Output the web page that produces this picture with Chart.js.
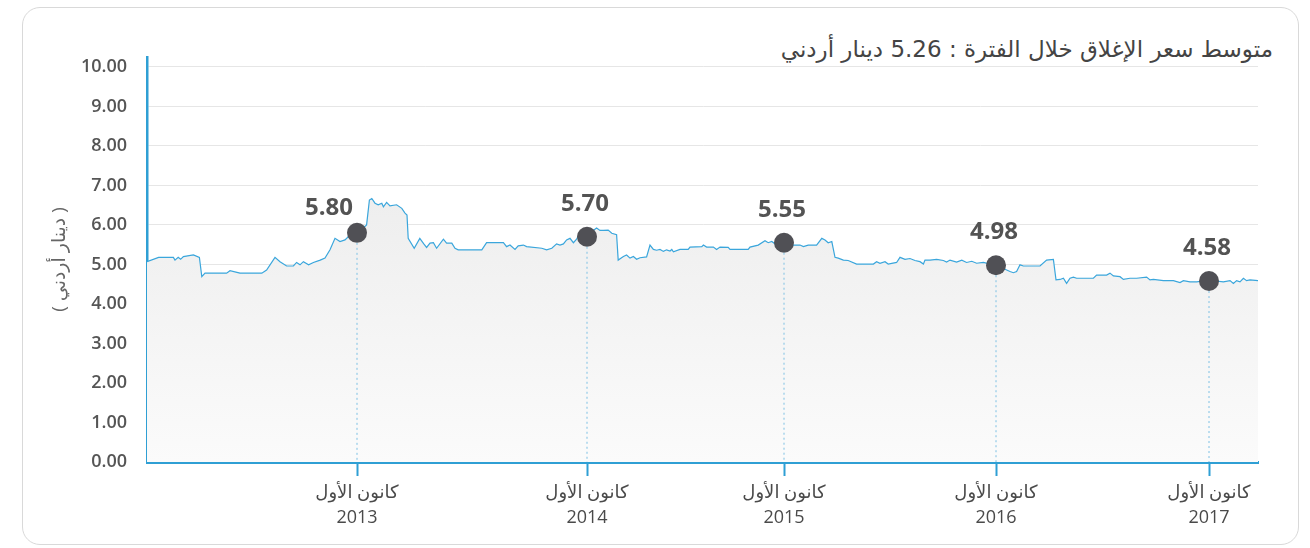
<!DOCTYPE html>
<html lang="ar">
<head>
<meta charset="utf-8">
<script src="https://cdn.jsdelivr.net/npm/chart.js@4.4.1/dist/chart.umd.min.js"></script>
<style>
  html, body { margin: 0; padding: 0; background: #fff; }
  #wrap { position: relative; width: 1310px; height: 548px; overflow: hidden; }
  #card {
    position: absolute; left: 22px; top: 7px; width: 1277px; height: 538px;
    border: 1px solid #d9d9d9; border-radius: 18px; box-sizing: border-box;
  }
  #title {
    position: absolute; right: 37px; top: 35px; direction: rtl;
    font-family: 'DejaVu Sans', sans-serif;
    font-size: 23px; color: #444; white-space: nowrap; line-height: 28px;
  }
  #main-chart { position: absolute; left: 0; top: 0; }
</style>
</head>
<body>
<div id="wrap">
  <div id="card"></div>
  <div id="title">متوسط سعر الإغلاق خلال الفترة : 5.26 دينار أردني</div>
  <canvas id="main-chart" width="1310" height="548"></canvas>
</div>
<script>
// data: week index since start of period, closing price (JOD)
const weekIdx = [
  0, 2.9, 6.6, 7, 7.8, 8.4, 9.1, 11.6, 13.1, 13.7, 14.5, 19.9, 20.75, 23.25, 28.7, 29.9,
  32, 33.25, 34.9, 36.6, 37.4, 38.25, 39.1, 40.4, 41.6, 43.3, 44.5, 45.75, 47, 48.25, 49.5, 50.3,
  52.5, 54.9, 55.6, 56.2, 57, 57.8, 58.7, 59.1, 59.9, 60.75, 62.4, 63.7, 64.5, 65, 65.3, 66.8,
  68.2, 69.2, 69.9, 70.75, 71.6, 72.4, 74.1, 74.9, 76.2, 77, 77.8, 83.7, 84.9, 89.1, 89.9, 90.75,
  92, 92.8, 94.1, 94.9, 98.7, 99.9, 101.2, 102.4, 103.25, 104.1, 104.9, 105.75, 106.6, 107.4, 108.25, 110,
  112.4, 113.25, 114.1, 115.3, 116.2, 117.4, 117.8, 119.1, 119.9, 120.75, 121.6, 122.4, 123.25, 124.9, 125.75, 126.6,
  127.4, 128.25, 129.1, 129.9, 130.75, 131.2, 131.6, 133.25, 135.3, 135.75, 138.7, 139.1, 139.9, 141.6, 142.4, 143.25,
  145.3, 145.75, 150.3, 150.75, 152.8, 154.5, 155.3, 156.2, 157.4, 159.25, 161.6, 163.25, 164.1, 165.3, 167.4, 168.7,
  169.5, 170.3, 171.2, 172, 172.8, 174.1, 175.3, 177.4, 181.6, 182.4, 183.25, 184.5, 185.3, 187.4, 188.25, 189.5,
  190.75, 192, 193.25, 194.1, 194.5, 195.75, 197.4, 199.1, 199.9, 200.75, 202.4, 203.7, 204.9, 206.2, 207.4, 209.1,
  212.25, 214.5, 215.75, 216.6, 217.4, 218.25, 219.1, 223.25, 224.9, 226.6, 227.25, 228.25, 229.1, 229.9, 230.75, 231.6,
  232.4, 236.6, 237.4, 239.9, 240.75, 241.6, 243.25, 244.1, 245.75, 247.4, 249.9, 250.75, 251.6, 254.1, 256.6, 258.25,
  259.1, 260.75, 262.4, 265.5, 269.1, 270.75, 271.6, 272.4, 273.25, 274.1, 274.9, 275.75, 277.75
];
const closePrice = [
  5.07, 5.18, 5.18, 5.11, 5.18, 5.13, 5.20, 5.24, 5.18, 4.69, 4.78, 4.78, 4.84, 4.78, 4.78, 4.86,
  5.18, 5.07, 4.96, 4.96, 5.05, 4.99, 5.07, 4.99, 5.05, 5.11, 5.16, 5.37, 5.66, 5.58, 5.62, 5.70,
  5.78, 6.00, 6.63, 6.67, 6.55, 6.51, 6.55, 6.46, 6.57, 6.48, 6.51, 6.42, 6.30, 6.25, 5.66, 5.41,
  5.66, 5.52, 5.43, 5.54, 5.55, 5.41, 5.64, 5.54, 5.54, 5.41, 5.37, 5.37, 5.55, 5.55, 5.45, 5.49,
  5.38, 5.47, 5.49, 5.45, 5.41, 5.37, 5.41, 5.52, 5.49, 5.52, 5.62, 5.66, 5.55, 5.64, 5.79, 5.74,
  5.92, 5.86, 5.86, 5.87, 5.79, 5.75, 5.11, 5.20, 5.24, 5.16, 5.20, 5.13, 5.17, 5.19, 5.49, 5.38,
  5.36, 5.38, 5.33, 5.37, 5.34, 5.38, 5.32, 5.38, 5.38, 5.44, 5.45, 5.49, 5.44, 5.44, 5.38, 5.44,
  5.43, 5.38, 5.38, 5.44, 5.49, 5.60, 5.55, 5.58, 5.49, 5.46, 5.49, 5.49, 5.45, 5.49, 5.49, 5.66,
  5.62, 5.55, 5.58, 5.18, 5.16, 5.11, 5.10, 5.01, 5.01, 5.07, 5.03, 5.07, 5.01, 5.05, 5.18, 5.13,
  5.15, 5.10, 5.07, 5.01, 5.11, 5.11, 5.13, 5.10, 5.06, 5.11, 5.06, 5.11, 5.05, 5.08, 5.03, 5.05,
  4.97, 4.88, 4.82, 4.79, 4.82, 4.99, 4.96, 4.96, 5.11, 5.13, 4.61, 4.62, 4.65, 4.52, 4.65, 4.68,
  4.65, 4.65, 4.73, 4.73, 4.78, 4.71, 4.69, 4.62, 4.65, 4.65, 4.68, 4.61, 4.62, 4.59, 4.59, 4.54,
  4.59, 4.56, 4.56, 4.60, 4.56, 4.59, 4.52, 4.59, 4.56, 4.65, 4.59, 4.61, 4.59
];

// December closes highlighted on the chart
const markWeek = [52.5, 110, 159.25, 212.25, 265.5];
const markPrice = [5.80, 5.70, 5.55, 4.98, 4.58];
const tickMonth = 'كانون الأول';
const tickYears = ['2013', '2014', '2015', '2016', '2017'];
const yTickValues = [0, 1, 2, 3, 4, 5, 6, 7, 8, 9, 10];

const BLUE = '#2f9fd4';
const FONT = "'Open Sans', 'DejaVu Sans', sans-serif";

// dashed drop lines + value labels for December points
const markerPlugin = {
  id: 'markerExtras',
  afterDatasetsDraw(chart) {
    const { ctx, chartArea } = chart;
    const meta = chart.getDatasetMeta(0);
    ctx.save();
    meta.data.forEach((pt) => {
      ctx.strokeStyle = '#7cc0e4';
      ctx.lineWidth = 1;
      ctx.setLineDash([2, 3]);
      ctx.beginPath();
      ctx.moveTo(pt.x, pt.y + 10);
      ctx.lineTo(pt.x, chartArea.bottom);
      ctx.stroke();
    });
    ctx.setLineDash([]);
    ctx.font = "bold 24px " + FONT;
    ctx.fillStyle = '#535353';
    ctx.textAlign = 'center';
    ctx.textBaseline = 'middle';
    meta.data.forEach((pt, i) => {
      // first label sits left of the steep rise
      const dx = i === 0 ? -28 : -2;
      const dy = i === 0 ? -25 : -33;
      ctx.fillText(markPrice[i].toFixed(2), pt.x + dx, pt.y + dy);
    });
    ctx.restore();
  }
};

const ctx = document.getElementById('main-chart').getContext('2d');
new Chart(ctx, {
  type: 'line',
  data: {
    datasets: [{
      label: 'ديسمبر',
      data: markWeek.map((w, i) => ({ x: w, y: markPrice[i] })),
      showLine: false,
      pointRadius: 10,
      pointHoverRadius: 10,
      pointBackgroundColor: '#505055',
      pointBorderWidth: 0,
      order: 0
    }, {
      label: 'سعر الإغلاق',
      data: weekIdx.map((w, i) => ({ x: w, y: closePrice[i] })),
      borderColor: '#3aa6dc',
      borderWidth: 1.2,
      pointRadius: 0,
      tension: 0,
      fill: 'origin',
      backgroundColor: (c) => {
        const { ctx, chartArea } = c.chart;
        if (!chartArea) return '#f0f0f0';
        const g = ctx.createLinearGradient(0, chartArea.top, 0, chartArea.bottom);
        g.addColorStop(0, '#e8e8e8');
        g.addColorStop(0.35, '#eeeeee');
        g.addColorStop(1, '#fbfbfb');
        return g;
      },
      order: 1
    }]
  },
  options: {
    responsive: false,
    animation: false,
    layout: { padding: { left: 40, right: 52, top: 57, bottom: 0 } },
    plugins: {
      legend: { display: false },
      tooltip: { enabled: false }
    },
    scales: {
      x: {
        type: 'linear',
        min: 0,
        max: 277.75,
        afterBuildTicks: (s) => { s.ticks = markWeek.map(v => ({ value: v })); },
        afterFit: (s) => { s.height = 86; },
        grid: { drawOnChartArea: false, drawTicks: true, tickLength: 14, tickColor: BLUE, tickWidth: 2 },
        border: { color: BLUE, width: 3 },
        ticks: {
          autoSkip: false,
          maxRotation: 0,
          padding: 5,
          color: '#4a4a4a',
          font: { family: FONT, size: 18, lineHeight: 1.35 },
          callback: (v, i) => [tickMonth, tickYears[i]]
        }
      },
      y: {
        min: 0,
        max: 10.25,
        afterBuildTicks: (s) => { s.ticks = yTickValues.map(v => ({ value: v })); },
        afterFit: (s) => { s.width = 107; },
        grid: { color: '#e6e6e6', lineWidth: 1, drawTicks: false },
        border: { color: BLUE, width: 2.5 },
        ticks: {
          padding: 20,
          color: '#555',
          font: { family: FONT, size: 18, weight: '600' },
          callback: (v) => v.toFixed(2)
        },
        title: {
          display: true,
          text: '( دينار أردني )',
          color: '#666',
          font: { family: FONT, size: 19 },
          padding: { top: 8, bottom: 0 }
        }
      }
    }
  },
  plugins: [markerPlugin]
});
</script>
</body>
</html>
